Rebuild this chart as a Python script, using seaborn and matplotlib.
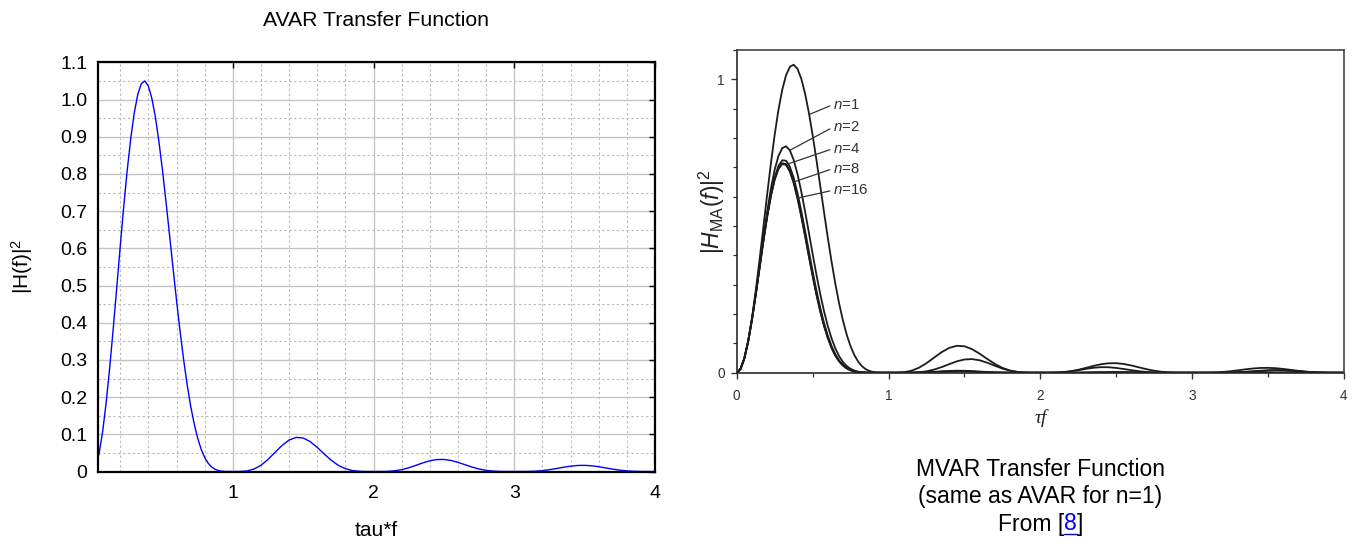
import matplotlib
matplotlib.use("Agg")
import matplotlib.pyplot as plt
import pandas as pd
import seaborn as sns
from matplotlib.ticker import FixedLocator, MultipleLocator
from matplotlib.lines import Line2D

# ---------------- data ----------------
tau_f = [0.0, 0.025, 0.05, 0.075, 0.1, 0.125, 0.15, 0.175, 0.2, 0.225,
         0.25, 0.275, 0.3, 0.325, 0.35, 0.375, 0.4, 0.425, 0.45, 0.475,
         0.5, 0.525, 0.55, 0.575, 0.6, 0.625, 0.65, 0.675, 0.7, 0.725,
         0.75, 0.775, 0.8, 0.825, 0.85, 0.875, 0.9, 0.925, 0.95, 0.975,
         1.0, 1.05, 1.1, 1.15, 1.2, 1.25, 1.3, 1.35, 1.4, 1.45,
         1.5, 1.55, 1.6, 1.65, 1.7, 1.75, 1.8, 1.85, 1.9, 1.95,
         2.0, 2.05, 2.1, 2.15, 2.2, 2.25, 2.3, 2.35, 2.4, 2.45,
         2.5, 2.55, 2.6, 2.65, 2.7, 2.75, 2.8, 2.85, 2.9, 2.95,
         3.0, 3.05, 3.1, 3.15, 3.2, 3.25, 3.3, 3.35, 3.4, 3.45,
         3.5, 3.55, 3.6, 3.65, 3.7, 3.75, 3.8, 3.85, 3.9, 3.95,
         4.0]

# AVAR (= MVAR n=1)
h_n1 = [0.0, 0.0123, 0.0485, 0.1070, 0.1848, 0.2782, 0.3826, 0.4932, 0.6047, 0.7121,
        0.8106, 0.8959, 0.9645, 1.0140, 1.0426, 1.0499, 1.0362, 1.0029, 0.9523, 0.8871,
        0.8106, 0.7262, 0.6375, 0.5479, 0.4605, 0.3780, 0.3023, 0.2351, 0.1772, 0.1289,
        0.0901, 0.0600, 0.0378, 0.0222, 0.0119, 0.0057, 0.0023, 0.0007, 0.0001, 0.0,
        0.0, 0.0001, 0.0015, 0.0065, 0.0168, 0.0324, 0.0514, 0.0701, 0.0846, 0.0917,
        0.0901, 0.0803, 0.0648, 0.0469, 0.0300, 0.0165, 0.0075, 0.0025, 0.0005, 0.0,
        0.0, 0.0, 0.0004, 0.0019, 0.0050, 0.0100, 0.0164, 0.0231, 0.0288, 0.0321,
        0.0324, 0.0297, 0.0245, 0.0182, 0.0119, 0.0067, 0.0031, 0.0011, 0.0002, 0.0,
        0.0, 0.0, 0.0002, 0.0009, 0.0024, 0.0048, 0.0080, 0.0114, 0.0143, 0.0162,
        0.0165, 0.0153, 0.0128, 0.0096, 0.0063, 0.0036, 0.0017, 0.0006, 0.0001, 0.0,
        0.0]

h_n2 = [0.0, 0.0123, 0.0482, 0.1055, 0.1802, 0.2676, 0.3618, 0.4568, 0.5470, 0.6268,
        0.6919, 0.7389, 0.7657, 0.7719, 0.7580, 0.7258, 0.6782, 0.6185, 0.5507, 0.4784,
        0.4053, 0.3346, 0.2689, 0.2100, 0.1591, 0.1167, 0.0825, 0.0561, 0.0365, 0.0226,
        0.0132, 0.0072, 0.0036, 0.0016, 0.0006, 0.0002, 0.0001, 0.0, 0.0, 0.0,
        0.0, 0.0, 0.0, 0.0004, 0.0016, 0.0047, 0.0106, 0.0191, 0.0292, 0.0387,
        0.0450, 0.0464, 0.0424, 0.0341, 0.0238, 0.0141, 0.0068, 0.0024, 0.0005, 0.0,
        0.0, 0.0, 0.0004, 0.0018, 0.0045, 0.0085, 0.0130, 0.0168, 0.0188, 0.0186,
        0.0162, 0.0125, 0.0085, 0.0050, 0.0025, 0.0010, 0.0003, 0.0001, 0.0, 0.0,
        0.0, 0.0, 0.0, 0.0, 0.0002, 0.0007, 0.0016, 0.0031, 0.0050, 0.0068,
        0.0083, 0.0088, 0.0084, 0.0070, 0.0050, 0.0031, 0.0015, 0.0005, 0.0001, 0.0,
        0.0]

h_n4 = [0.0, 0.0123, 0.0482, 0.1051, 0.1791, 0.2650, 0.3568, 0.4483, 0.5336, 0.6074,
        0.6655, 0.7049, 0.7240, 0.7227, 0.7021, 0.6647, 0.6134, 0.5521, 0.4847, 0.4148,
        0.3459, 0.2809, 0.2218, 0.1700, 0.1263, 0.0907, 0.0628, 0.0418, 0.0265, 0.0160,
        0.0091, 0.0048, 0.0024, 0.0010, 0.0004, 0.0001, 0.0, 0.0, 0.0, 0.0,
        0.0, 0.0, 0.0, 0.0001, 0.0006, 0.0015, 0.0029, 0.0046, 0.0060, 0.0068,
        0.0066, 0.0056, 0.0040, 0.0025, 0.0013, 0.0005, 0.0002, 0.0, 0.0, 0.0,
        0.0, 0.0, 0.0, 0.0, 0.0001, 0.0003, 0.0007, 0.0012, 0.0018, 0.0022,
        0.0024, 0.0022, 0.0017, 0.0012, 0.0007, 0.0003, 0.0001, 0.0, 0.0, 0.0,
        0.0, 0.0, 0.0, 0.0, 0.0001, 0.0005, 0.0012, 0.0024, 0.0039, 0.0056,
        0.0071, 0.0078, 0.0076, 0.0065, 0.0048, 0.0030, 0.0015, 0.0005, 0.0001, 0.0,
        0.0]

h_n8 = [0.0, 0.0123, 0.0482, 0.1051, 0.1789, 0.2644, 0.3555, 0.4461, 0.5303, 0.6027,
        0.6591, 0.6967, 0.7140, 0.7110, 0.6889, 0.6503, 0.5984, 0.5369, 0.4697, 0.4006,
        0.3328, 0.2691, 0.2116, 0.1615, 0.1194, 0.0854, 0.0588, 0.0389, 0.0246, 0.0148,
        0.0083, 0.0044, 0.0021, 0.0009, 0.0004, 0.0001, 0.0, 0.0, 0.0, 0.0,
        0.0, 0.0, 0.0, 0.0001, 0.0004, 0.0011, 0.0022, 0.0034, 0.0044, 0.0048,
        0.0046, 0.0037, 0.0026, 0.0016, 0.0008, 0.0003, 0.0001, 0.0, 0.0, 0.0,
        0.0, 0.0, 0.0, 0.0, 0.0, 0.0001, 0.0003, 0.0005, 0.0006, 0.0007,
        0.0007, 0.0006, 0.0005, 0.0003, 0.0002, 0.0001, 0.0, 0.0, 0.0, 0.0,
        0.0, 0.0, 0.0, 0.0, 0.0, 0.0, 0.0001, 0.0002, 0.0002, 0.0003,
        0.0003, 0.0002, 0.0002, 0.0001, 0.0001, 0.0, 0.0, 0.0, 0.0, 0.0,
        0.0]

h_n16 = [0.0, 0.0123, 0.0481, 0.1050, 0.1788, 0.2642, 0.3552, 0.4456, 0.5295, 0.6015,
         0.6576, 0.6947, 0.7115, 0.7081, 0.6857, 0.6468, 0.5947, 0.5332, 0.4661, 0.3971,
         0.3296, 0.2662, 0.2091, 0.1594, 0.1178, 0.0841, 0.0579, 0.0382, 0.0241, 0.0145,
         0.0082, 0.0043, 0.0021, 0.0009, 0.0003, 0.0001, 0.0, 0.0, 0.0, 0.0,
         0.0, 0.0, 0.0, 0.0001, 0.0004, 0.0011, 0.0021, 0.0032, 0.0041, 0.0044,
         0.0042, 0.0034, 0.0024, 0.0014, 0.0007, 0.0003, 0.0001, 0.0, 0.0, 0.0,
         0.0, 0.0, 0.0, 0.0, 0.0, 0.0001, 0.0002, 0.0004, 0.0005, 0.0006,
         0.0006, 0.0005, 0.0004, 0.0002, 0.0001, 0.0, 0.0, 0.0, 0.0, 0.0,
         0.0, 0.0, 0.0, 0.0, 0.0, 0.0, 0.0001, 0.0001, 0.0001, 0.0002,
         0.0002, 0.0001, 0.0001, 0.0001, 0.0, 0.0, 0.0, 0.0, 0.0, 0.0,
         0.0]

mvar_labels = ["n=1", "n=2", "n=4", "n=8", "n=16"]
mvar_series = [h_n1, h_n2, h_n4, h_n8, h_n16]

left_xticks = [1, 2, 3, 4]
left_xticklabels = ["1", "2", "3", "4"]
left_yticks = [0, 0.1, 0.2, 0.3, 0.4, 0.5, 0.6, 0.7, 0.8, 0.9, 1.0, 1.1]
left_yticklabels = ["0", "0.1", "0.2", "0.3", "0.4", "0.5", "0.6", "0.7",
                    "0.8", "0.9", "1.0", "1.1"]
right_xticks = [0, 1, 2, 3, 4]
right_yticks = [0, 1]

# label anchor points (data coords): curve point, text point
label_curve_pts = [(0.477, 0.880), (0.350, 0.758), (0.340, 0.712), (0.375, 0.650), (0.400, 0.595)]
label_text_pts = [(0.635, 0.914), (0.635, 0.837), (0.635, 0.764), (0.635, 0.696), (0.635, 0.622)]

# ---------------- style ----------------
sns.set_style("white")
plt.rcParams["font.family"] = ["Liberation Sans", "DejaVu Sans"]
plt.rcParams["mathtext.fontset"] = "custom"
plt.rcParams["mathtext.rm"] = "Liberation Sans"
plt.rcParams["mathtext.it"] = "Liberation Sans:italic"
plt.rcParams["mathtext.default"] = "regular"
plt.rcParams["text.color"] = "black"
plt.rcParams["axes.labelcolor"] = "black"

W, H = 1360, 548
fig = plt.figure(figsize=(W / 100, H / 100), dpi=100)
fig.patch.set_facecolor("white")

# ---------------- left panel: AVAR ----------------
L, R, T, B = 97.7, 655.0, 62.3, 471.5
ax1 = fig.add_axes([L / W, 1 - B / H, (R - L) / W, (B - T) / H])
df1 = pd.DataFrame({"tau_f": tau_f, "H2": h_n1})
sns.lineplot(data=df1, x="tau_f", y="H2", ax=ax1, color="#0000ff", lw=1.0)
ax1.set_xlim(0.04, 4)
ax1.set_ylim(0, 1.1)
ax1.xaxis.set_major_locator(FixedLocator(left_xticks))
ax1.set_xticklabels(left_xticklabels)
ax1.yaxis.set_major_locator(FixedLocator(left_yticks))
ax1.set_yticklabels(left_yticklabels)
ax1.xaxis.set_minor_locator(MultipleLocator(0.2))
ax1.yaxis.set_minor_locator(MultipleLocator(0.05))
ax1.set_axisbelow(True)
ax1.grid(which="major", color="#c4c4c4", lw=1.0, ls="-")
ax1.grid(which="minor", color="#bcbcbc", lw=0.8, ls=(0, (2.2, 2.2)))
ax1.tick_params(which="major", direction="in", length=4, width=1,
                top=True, right=True, labelsize=14, colors="black")
ax1.tick_params(axis="y", which="major", pad=7.5)
ax1.tick_params(axis="x", which="major", pad=9.5)
ax1.tick_params(which="minor", length=0)
for s in ax1.spines.values():
    s.set_visible(True)
    s.set_color("black")
    s.set_linewidth(1.6)
ax1.set_xlabel("tau*f", fontsize=15, color="black")
ax1.xaxis.set_label_coords(0.5, (B - 530) / (B - T))
ax1.xaxis.label.set_va("center")
ax1.set_ylabel("|H(f)|$^2$", fontsize=15, color="black")
ax1.yaxis.set_label_coords((22 - L) / (R - L), 0.5)
ax1.yaxis.label.set_va("center")
ax1.set_title("AVAR Transfer Function", fontsize=15.3, color="black",
              y=(B - 20) / (B - T), pad=0, va="center")

# ---------------- right panel: MVAR ----------------
L2, R2, T2, B2 = 736.7, 1344.0, 50.0, 372.7
ax2 = fig.add_axes([L2 / W, 1 - B2 / H, (R2 - L2) / W, (B2 - T2) / H])
df2 = pd.DataFrame({
    "tau_f": tau_f * len(mvar_series),
    "H2": [v for s in mvar_series for v in s],
    "n": [lab for lab, s in zip(mvar_labels, mvar_series) for _ in s],
})
sns.lineplot(data=df2, x="tau_f", y="H2", units="n", estimator=None,
             color="#1c1c1c", lw=1.3, ax=ax2, legend=False)
ax2.set_xlim(0, 4)
ax2.set_ylim(0, 1.1)
ax2.xaxis.set_major_locator(FixedLocator(right_xticks))
ax2.yaxis.set_major_locator(FixedLocator(right_yticks))
ax2.xaxis.set_minor_locator(MultipleLocator(0.5))
ax2.yaxis.set_minor_locator(MultipleLocator(0.1))
ax2.tick_params(which="major", direction="out", length=4, width=1,
                labelsize=9.8, colors="#333333", left=True, bottom=True)
ax2.tick_params(which="minor", direction="out", length=3, width=0.9,
                colors="#333333", left=True, bottom=True)
ax2.tick_params(axis="y", which="major", pad=4.5)
ax2.tick_params(axis="x", which="major", pad=7.5)
for name, s in ax2.spines.items():
    s.set_visible(True)
    s.set_color("#2a2a2a" if name in ("left", "bottom") else "#444444")
    s.set_linewidth(1.2)
ax2.grid(False)
ax2.set_xlabel("τf", fontsize=14, family="Liberation Serif", style="italic", color="#222222")
ax2.xaxis.set_label_coords(0.5, (B2 - 418) / (B2 - T2))
ax2.xaxis.label.set_va("center")
ax2.set_ylabel(r"$|\mathit{H}_{\mathrm{MA}}(\mathit{f})|^2$", fontsize=16.5, color="#222222")
ax2.yaxis.set_label_coords((712 - L2) / (R2 - L2), 0.5)
ax2.yaxis.label.set_va("center")

for lab, (cx, cy), (tx, ty) in zip(mvar_labels, label_curve_pts, label_text_pts):
    txt = r"$\mathit{n}$" + lab[1:]
    ax2.annotate(txt, xy=(cx, cy), xytext=(tx, ty), ha="left", va="center",
                 fontsize=10.8, color="#333333",
                 arrowprops=dict(arrowstyle="-", color="#333333", lw=0.9,
                                 shrinkA=0, shrinkB=0, relpos=(0, 0.5)))

# ---------------- caption under right panel ----------------
cx_px = (L2 + R2) / 2
cap_fs = 16.5
fig.text(cx_px / W, 1 - 470 / H, "MVAR Transfer Function", ha="center", va="center",
         fontsize=cap_fs, color="black")
fig.text(cx_px / W, 1 - 497 / H, "(same as AVAR for n=1)", ha="center", va="center",
         fontsize=cap_fs, color="black")

fig.canvas.draw()
rend = fig.canvas.get_renderer()
parts = [("From [", "black"), ("8", "#0000ee"), ("]", "black")]
y3 = 1 - 524 / H
texts = [fig.text(0, y3, s, color=c, fontsize=cap_fs, ha="left", va="center") for s, c in parts]
widths = [t.get_window_extent(rend).width for t in texts]
x0 = cx_px - sum(widths) / 2
for t, w in zip(texts, widths):
    t.set_x(x0 / W)
    x0 += w
fig.canvas.draw()
bb = texts[1].get_window_extent(rend)
fig.add_artist(Line2D([bb.x0 / W, bb.x1 / W], [(bb.y0 + 1.5) / H] * 2,
                      color="#0000ee", lw=1.0))

fig.savefig("out.png", dpi=100, facecolor="white")
